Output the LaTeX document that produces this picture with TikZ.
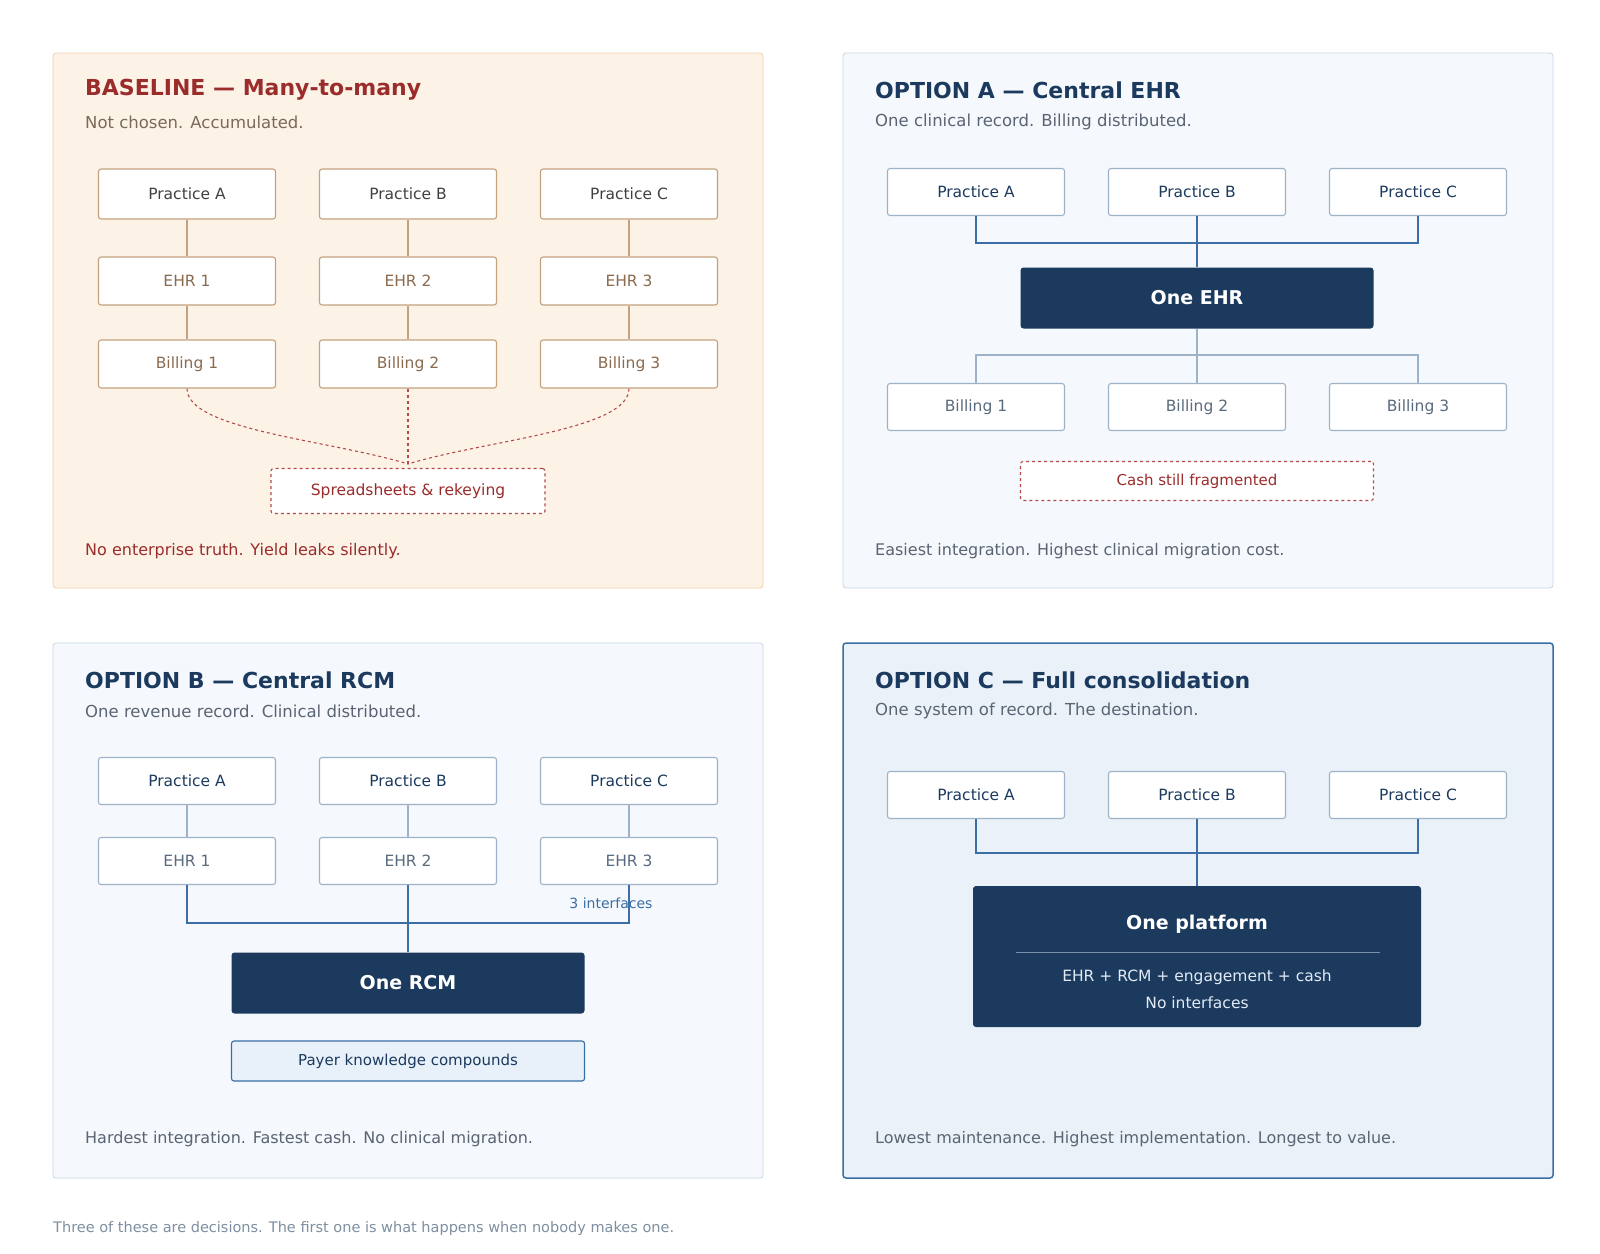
\documentclass[tikz,border=0pt]{standalone}
\usepackage{fontspec}
\setmainfont{DejaVu Sans}
\begin{document}
\begin{tikzpicture}[x=1pt,y=-1pt,
  every node/.style={inner sep=0pt},
  panel/.style={rounded corners=3pt,line width=0.8pt},
  bx/.style={draw,fill=white,rounded corners=2.5pt,line width=1.1pt,minimum width=177pt,font=\fontsize{15.5}{18}\selectfont},
  ttl/.style={anchor=west,font=\bfseries\fontsize{22}{26}\selectfont},
  sub/.style={anchor=west,font=\fontsize{16.5}{20}\selectfont,text=subg},
  foot/.style={anchor=west,font=\fontsize{16}{20}\selectfont},
  dk/.style={fill=navy,rounded corners=3pt,text=white,font=\bfseries\fontsize{19}{22}\selectfont},
]
\definecolor{bfill}{HTML}{FDF2E6}\definecolor{bbord}{HTML}{F0D2AE}
\definecolor{red}{HTML}{9B2C2C}\definecolor{bsub}{HTML}{7A6A5A}
\definecolor{bbx}{HTML}{C4A27F}\definecolor{btx}{HTML}{8B6B4E}
\definecolor{dred}{HTML}{B54A4A}
\definecolor{pfill}{HTML}{F5F8FC}\definecolor{pbord}{HTML}{C9D6E3}
\definecolor{navy}{HTML}{1B3A5E}\definecolor{subg}{HTML}{5A6472}
\definecolor{gbx}{HTML}{9FB3C8}\definecolor{gtx}{HTML}{5A6B7D}
\definecolor{blu}{HTML}{3A6EA5}\definecolor{cfill}{HTML}{EAF1F9}
\definecolor{paleb}{HTML}{E8F0FA}
\useasboundingbox (0,0) rectangle (1600,1253);
\fill[white] (0,0) rectangle (1600,1253);
% panels
\draw[panel,fill=bfill,draw=bbord] (53,53) rectangle (763,588);
\draw[panel,fill=pfill,draw=pbord] (843,53) rectangle (1553,588);
\draw[panel,fill=pfill,draw=pbord] (53,643) rectangle (763,1178);
\draw[panel,fill=cfill,draw=blu,line width=1.5pt] (843,643) rectangle (1553,1178);

% BASELINE
\node[ttl,text=red] (t0) at (85,90) {BASELINE — Many-to-many};
\node[sub,text=bsub] (s0) at (85,122) {Not chosen. Accumulated.};
\foreach \x/\l/\n in {187/A/1,408/B/2,629/C/3}{
  \node[bx,draw=bbx,text=black!75,minimum height=50pt] (bp\n) at (\x,194) {Practice \l};
  \node[bx,draw=bbx,text=btx,minimum height=48pt] (be\n) at (\x,281) {EHR \n};
  \node[bx,draw=bbx,text=btx,minimum height=48pt] (bb\n) at (\x,364) {Billing \n};
  \draw[bbx,line width=1.1pt] (bp\n) -- (be\n);
  \draw[bbx,line width=1.1pt] (be\n) -- (bb\n);
}
\node[draw=dred,dashed,fill=white,rounded corners=2.5pt,line width=1.1pt,minimum width=274pt,minimum height=45pt,text=red,font=\fontsize{15.5}{18}\selectfont] (ss) at (408,491) {Spreadsheets \& rekeying};
\coordinate (m0) at (408,464);
\draw[dred,dashed,line width=1.1pt] (bb1.south) .. controls (187,430) and (330,440) .. (m0);
\draw[dred,dashed,line width=1.1pt] (bb3.south) .. controls (629,430) and (486,440) .. (m0);
\draw[dred,dashed,line width=1.1pt] (bb2.south) -- (m0);
\node[foot,text=red] (f0) at (85,551) {No enterprise truth. Yield leaks silently.};

% OPTION A
\node[ttl,text=navy] (tA) at (875,90) {OPTION A — Central EHR};
\node[sub] (sA) at (875,122) {One clinical record. Billing distributed.};
\foreach \x/\l/\n in {976/A/1,1197/B/2,1418/C/3}{
  \node[bx,draw=gbx,text=navy,minimum height=47pt] (ap\n) at (\x,192) {Practice \l};
  \node[bx,draw=gbx,text=gtx,minimum height=47pt] (ab\n) at (\x,407) {Billing \n};
}
\node[dk,minimum width=353pt,minimum height=61pt] (ehr) at (1197,298) {One EHR};
\draw[blu,line width=1.5pt] (ap1.south) |- (1197,243) -| (ap3.south);
\draw[blu,line width=1.5pt] (ap2.south) -- (ehr.north);
\draw[gbx,line width=1.5pt] (ab1.north) |- (1197,355) -| (ab3.north);
\draw[gbx,line width=1.5pt] (ehr.south) -- (ab2.north);
\node[draw=dred,dashed,fill=white,rounded corners=2.5pt,line width=1.1pt,minimum width=353pt,minimum height=39pt,text=red,font=\fontsize{15}{18}\selectfont] (cs) at (1197,481) {Cash still fragmented};
\node[foot,text=subg] (fA) at (875,551) {Easiest integration. Highest clinical migration cost.};

% OPTION B
\node[ttl,text=navy] (tB) at (85,680) {OPTION B — Central RCM};
\node[sub] (sB) at (85,711) {One revenue record. Clinical distributed.};
\foreach \x/\l/\n in {187/A/1,408/B/2,629/C/3}{
  \node[bx,draw=gbx,text=navy,minimum height=47pt] (cp\n) at (\x,781) {Practice \l};
  \node[bx,draw=gbx,text=gtx,minimum height=47pt] (ce\n) at (\x,861) {EHR \n};
  \draw[gbx,line width=1.1pt] (cp\n) -- (ce\n);
}
\node[dk,minimum width=353pt,minimum height=61pt] (rcm) at (408,983) {One RCM};
\draw[blu,line width=1.5pt] (ce1.south) |- (408,923) -| (ce3.south);
\draw[blu,line width=1.5pt] (ce2.south) -- (rcm.north);
\node[text=blu,font=\fontsize{14}{16}\selectfont] (ni) at (611,903) {3 interfaces};
\node[draw=blu,fill=paleb,rounded corners=2.5pt,line width=1.1pt,minimum width=353pt,minimum height=40pt,text=navy,font=\fontsize{15}{18}\selectfont] (pk) at (408,1061) {Payer knowledge compounds};
\node[foot,text=subg] (fB) at (85,1139) {Hardest integration. Fastest cash. No clinical migration.};

% OPTION C
\node[ttl,text=navy] (tC) at (875,680) {OPTION C — Full consolidation};
\node[sub] (sC) at (875,711) {One system of record. The destination.};
\foreach \x/\l/\n in {976/A/1,1197/B/2,1418/C/3}{
  \node[bx,draw=gbx,text=navy,minimum height=47pt] (dp\n) at (\x,795) {Practice \l};
}
\node[dk,minimum width=448pt,minimum height=141pt] (pl) at (1197,956.5) {};
\draw[blu,line width=1.5pt] (dp1.south) |- (1197,853) -| (dp3.south);
\draw[blu,line width=1.5pt] (dp2.south) -- (pl.north);
\node[text=white,font=\bfseries\fontsize{19}{22}\selectfont] (plt) at (1197,924) {One platform};
\draw[gbx!70!navy,line width=0.8pt] (1016,952) -- (1380,952);
\node[text=paleb!90!gbx,font=\fontsize{15.5}{18}\selectfont] (pl1) at (1197,977) {EHR + RCM + engagement + cash};
\node[text=paleb!90!gbx,font=\fontsize{15.5}{18}\selectfont] (pl2) at (1197,1003) {No interfaces};
\node[foot,text=subg] (fC) at (875,1139) {Lowest maintenance. Highest implementation. Longest to value.};

\node[anchor=west,text=gbx!80!black,font=\fontsize{14.5}{18}\selectfont] (cap) at (53,1228) {Three of these are decisions. The first one is what happens when nobody makes one.};
\end{tikzpicture}
\end{document}
